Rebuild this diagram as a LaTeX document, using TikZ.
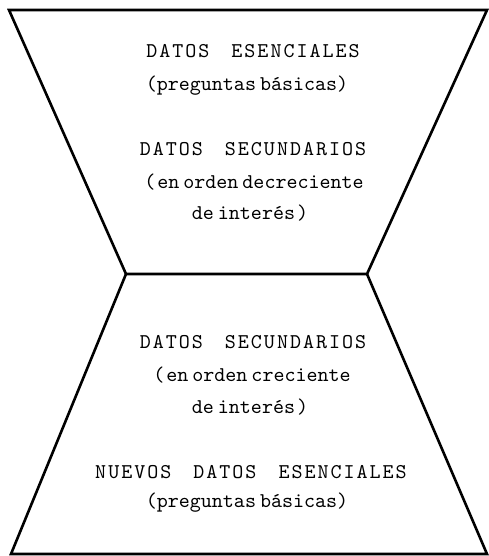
\documentclass[tikz,border=0pt]{standalone}
\usepackage{fontspec}
\newfontfamily\bigtt{lmmono10-regular.otf}
\makeatletter
\def\lsp#1{\lsp@aux#1\relax}
\def\lsp@aux#1{\ifx#1\relax\else#1\kern2pt\expandafter\lsp@aux\fi}
\makeatother
\newcommand{\wgap}{\hspace{20pt}}
\newcommand{\sgap}{\hspace{4pt}}
\begin{document}
\begin{tikzpicture}[x=1pt,y=-1pt,
  edge/.style={line width=2.6pt, line join=miter},
  txt/.style={font=\bigtt\fontsize{21}{23}\selectfont, inner sep=0pt}]
\useasboundingbox (0,0) rectangle (489,556);
% frame
\coordinate (tl) at (9,10);
\coordinate (tr) at (487,10);
\coordinate (ml) at (126,274);
\coordinate (mr) at (367,274);
\coordinate (bl) at (11,554);
\coordinate (br) at (487,554);
\draw[edge] (tl) -- (tr) -- (mr) -- (ml) -- cycle;
\draw[edge] (ml) -- (bl) -- (br) -- (mr);
% texts
\node[txt] (t1) at (254,51) {\lsp{DATOS}\wgap\lsp{ESENCIALES}};
\node[txt] (t2) at (247,86) {(preguntas\sgap básicas)};
\node[txt] (t3) at (254,149) {\lsp{DATOS}\wgap\lsp{SECUNDARIOS}};
\node[txt] (t4) at (254,182) {(\hspace{2pt}en\sgap orden\sgap decreciente};
\node[txt] (t5) at (250,213) {de\sgap interés\hspace{2pt})};
\node[txt] (b1) at (254,342) {\lsp{DATOS}\wgap\lsp{SECUNDARIOS}};
\node[txt] (b2) at (252,375) {(\hspace{2pt}en\sgap orden\sgap creciente};
\node[txt] (b3) at (250,407) {de\sgap interés\hspace{2pt})};
\node[txt] (b4) at (252,472) {\lsp{NUEVOS}\wgap\lsp{DATOS}\wgap\lsp{ESENCIALES}};
\node[txt] (b5) at (247,503) {(preguntas\sgap básicas)};
\end{tikzpicture}
\end{document}
